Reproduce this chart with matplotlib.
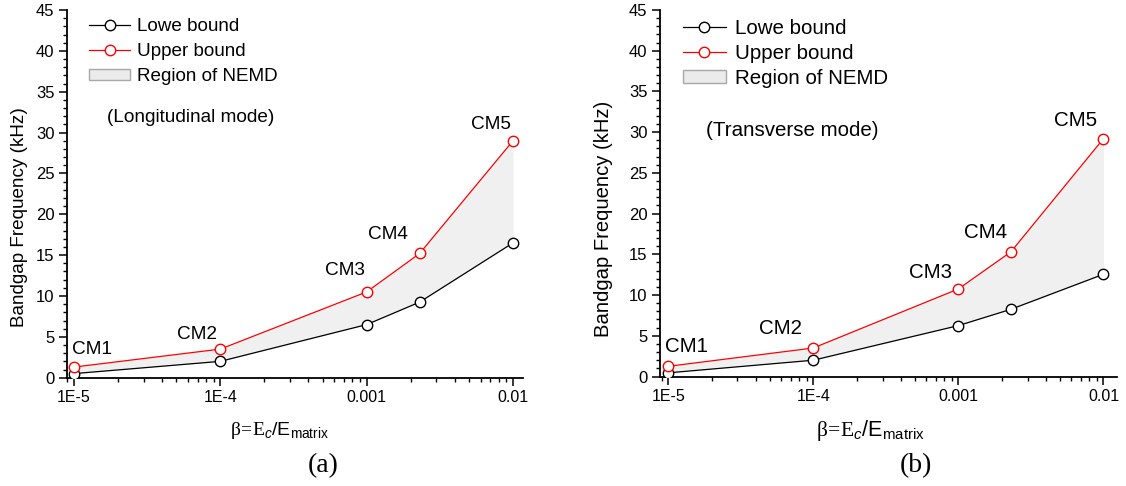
import matplotlib
matplotlib.use("Agg")
import matplotlib.pyplot as plt
from matplotlib.patches import Patch
from matplotlib.lines import Line2D
from matplotlib.ticker import MultipleLocator, LogLocator, NullFormatter

plt.rcParams['font.family'] = ['Liberation Sans', 'DejaVu Sans']
plt.rcParams['mathtext.fontset'] = 'custom'
plt.rcParams['mathtext.rm'] = 'Liberation Serif'
plt.rcParams['mathtext.it'] = 'Liberation Sans:italic'
plt.rcParams['mathtext.sf'] = 'Liberation Sans'

# ---- data ----
beta = [1e-5, 1e-4, 1e-3, 2.3e-3, 1e-2]
lower_long = [0.5, 2.0, 6.5, 9.25, 16.5]
upper_long = [1.3, 3.5, 10.5, 15.2, 29.0]
lower_trans = [0.45, 2.0, 6.25, 8.25, 12.55]
upper_trans = [1.25, 3.5, 10.75, 15.3, 29.2]
cm_labels = ["CM1", "CM2", "CM3", "CM4", "CM5"]
xtick_vals = [1e-5, 1e-4, 1e-3, 1e-2]
xtick_labels = ["1E-5", "1E-4", "0.001", "0.01"]
legend_labels = ["Lowe bound", "Upper bound", "Region of NEMD"]
mode_titles = ["(Longitudinal mode)", "(Transverse mode)"]
panel_labels = ["(a)", "(b)"]

W, H = 1126, 486
fig = plt.figure(figsize=(W / 100, H / 100), dpi=100)

def px_axes(x0, x1, ytop, ybot):
    return fig.add_axes([x0 / W, 1 - ybot / H, (x1 - x0) / W, (ybot - ytop) / H])

panels = [
    dict(ax=px_axes(67, 523, 10, 377.7), lower=lower_long, upper=upper_long,
         xlim=(8.96e-6, 0.0117), fs=13.7, xfs=14, yfs=13.6, ylab_xy=(-0.086, 0.437),
         cm_pos=[(1.32e-5, 3.5), (6.9e-5, 5.3), (7.1e-4, 13.1), (1.4e-3, 17.5), (7.1e-3, 31.0)],
         leg_anchor=(0.049, 0.9775), leg_fs=13.6, leg_sp=0.42, leg_hl=2.15, leg_tp=0.38,
         mode_xy=(107, 118), xlab_x=280, panel_x=323),
    dict(ax=px_axes(660, 1117, 10, 376.5), lower=lower_trans, upper=upper_trans,
         xlim=(8.77e-6, 0.0124), fs=14.8, xfs=15.5, yfs=14.6, ylab_xy=(-0.103, 0.43),
         cm_pos=[(1.34e-5, 3.7), (5.9e-5, 5.9), (6.4e-4, 12.8), (1.53e-3, 17.65), (6.4e-3, 31.4)],
         leg_anchor=(0.05, 0.9765), leg_fs=14.8, leg_sp=0.30, leg_hl=2.1, leg_tp=0.44,
         mode_xy=(706, 130), xlab_x=871, panel_x=916),
]

for i, p in enumerate(panels):
    ax = p['ax']
    ax.fill_between(beta, p['lower'], p['upper'], color='#f0f0f0', lw=0, zorder=1)
    ax.plot(beta, p['lower'], '-o', color='black', lw=0.9, ms=7.5,
            mfc='white', mec='black', mew=1.0, zorder=3)
    ax.plot(beta, p['upper'], '-o', color='red', lw=0.9, ms=7.5,
            mfc='white', mec='red', mew=1.0, zorder=3)
    ax.set_xscale('log')
    ax.set_xlim(*p['xlim'])
    ax.set_ylim(0, 45)
    ax.set_xticks(xtick_vals, xtick_labels)
    ax.xaxis.set_minor_locator(LogLocator(base=10, subs=range(2, 10)))
    ax.xaxis.set_minor_formatter(NullFormatter())
    ax.yaxis.set_major_locator(MultipleLocator(5))
    ax.yaxis.set_minor_locator(MultipleLocator(1))
    for s in ['top', 'right']:
        ax.spines[s].set_visible(False)
    for s in ['left', 'bottom']:
        ax.spines[s].set_linewidth(1.3)
    ax.tick_params(which='major', direction='out', length=5.5, width=1.1, labelsize=11.5)
    ax.tick_params(axis='y', which='major', labelsize=12)
    ax.tick_params(which='minor', direction='out', length=3, width=1.0)
    ax.set_ylabel("Bandgap Frequency (kHz)", fontsize=p['yfs'])
    ax.yaxis.set_label_coords(*p['ylab_xy'])
    for lab, (x, y) in zip(cm_labels, p['cm_pos']):
        ax.text(x, y, lab, fontsize=p['fs'], ha='center', va='center')
    handles = [
        Line2D([], [], color='black', lw=0.9, marker='o', ms=7.5, mfc='white', mec='black'),
        Line2D([], [], color='red', lw=0.9, marker='o', ms=7.5, mfc='white', mec='red'),
        Patch(facecolor='#ebebeb', edgecolor='#a8a8a8', lw=1.0),
    ]
    ax.legend(handles, legend_labels, loc='upper left', bbox_to_anchor=p['leg_anchor'],
              frameon=False, fontsize=p['leg_fs'], handlelength=p['leg_hl'], handleheight=0.55,
              handletextpad=p['leg_tp'], labelspacing=p['leg_sp'], borderaxespad=0.0, borderpad=0.0)
    mx, my = p['mode_xy']
    fig.text(mx / W, 1 - my / H, mode_titles[i], fontsize=p['fs'], ha='left', va='center')
    fig.text(p['xlab_x'] / W, 1 - 430 / H,
             r'$\mathrm{\beta}\!=\!\mathrm{E}_{\mathit{c}}\mathsf{/E}_{\mathsf{matrix}}$',
             fontsize=p['xfs'], ha='center', va='center')
    fig.text(p['panel_x'] / W, 1 - 466 / H, panel_labels[i],
             fontsize=20, family='Liberation Serif', ha='center', va='center')

fig.savefig("out.png", dpi=100)
